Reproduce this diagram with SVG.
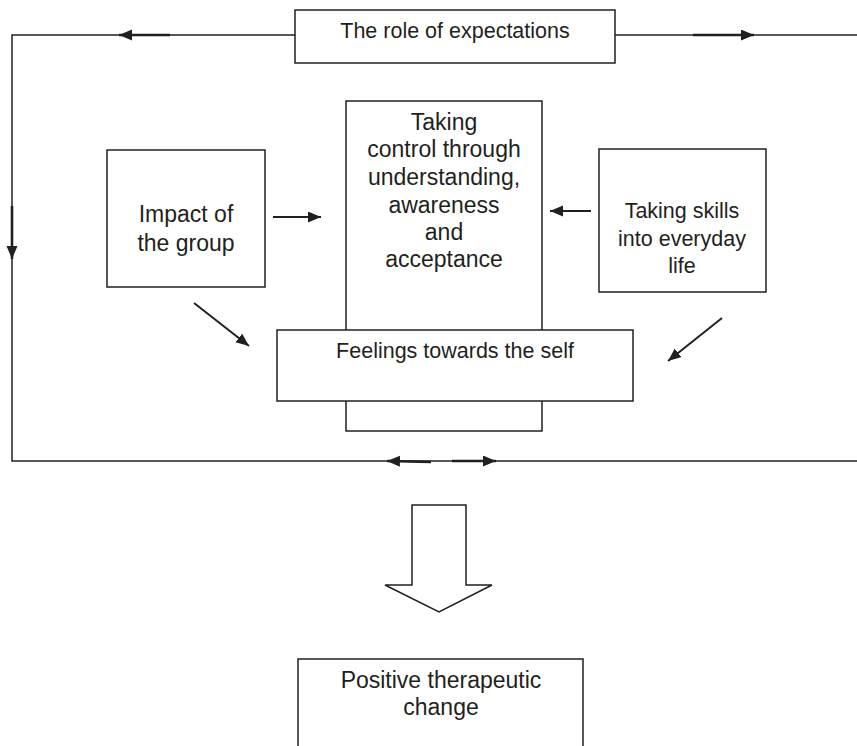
<svg xmlns="http://www.w3.org/2000/svg" width="857" height="746" viewBox="0 0 857 746">
<style>
.box{fill:#fff;stroke:#231f20;stroke-width:1.5}
.ln{fill:none;stroke:#231f20;stroke-width:1.5}
.th{fill:none;stroke:#231f20;stroke-width:2.6}
.ar{fill:none;stroke:#231f20;stroke-width:2}
text{font-family:"Liberation Sans",Arial,Helvetica,sans-serif;fill:#231f20;text-anchor:middle}
.f23{font-size:23px}
.f21{font-size:21.5px}
</style>
<defs>
<marker id="ah" markerUnits="userSpaceOnUse" markerWidth="14" markerHeight="12" refX="13" refY="5.5" orient="auto">
<path d="M0,0 L13,5.5 L0,11 z" fill="#231f20"/>
</marker>
</defs>
<rect width="857" height="746" fill="#fff"/>
<g id="connectors">
<polyline class="ln" points="295,35 12,35 12,461 857,461"/>
<line class="ln" x1="615" y1="35" x2="857" y2="35"/>
<line class="th" x1="170" y1="35" x2="119" y2="35" marker-end="url(#ah)"/>
<line class="th" x1="693" y1="35" x2="754" y2="35" marker-end="url(#ah)"/>
<line class="th" x1="12" y1="206" x2="12" y2="259" marker-end="url(#ah)"/>
<line class="th" x1="431" y1="462" x2="387" y2="461" marker-end="url(#ah)"/>
<line class="th" x1="452" y1="461" x2="496" y2="461" marker-end="url(#ah)"/>
<line class="ar" x1="273" y1="217" x2="321" y2="217" marker-end="url(#ah)"/>
<line class="ar" x1="591" y1="211" x2="550" y2="211" marker-end="url(#ah)"/>
<line class="ar" x1="194" y1="303" x2="249" y2="346" marker-end="url(#ah)"/>
<line class="ar" x1="722" y1="318" x2="668" y2="361" marker-end="url(#ah)"/>
<polygon class="box" points="412,505 466,505 466,585 492,585 439,612 385,585 412,585"/>
</g>
<g id="expectations">
<rect class="box" x="295" y="10" width="320" height="53"/>
<text class="f21" x="455" y="38">The role of expectations</text>
</g>
<g id="control">
<rect class="box" x="346" y="101" width="196" height="330"/>
<text class="f23" x="444" y="130">Taking</text>
<text class="f23" x="444" y="157">control through</text>
<text class="f23" x="444" y="185">understanding,</text>
<text class="f23" x="444" y="213">awareness</text>
<text class="f23" x="444" y="240">and</text>
<text class="f23" x="444" y="267">acceptance</text>
</g>
<g id="impact">
<rect class="box" x="107" y="150" width="158" height="137"/>
<text class="f23" x="186" y="222">Impact of</text>
<text class="f23" x="186" y="251">the group</text>
</g>
<g id="skills">
<rect class="box" x="599" y="149" width="167" height="143"/>
<text class="f21" x="682" y="218">Taking skills</text>
<text class="f21" x="682" y="246">into everyday</text>
<text class="f21" x="682" y="273">life</text>
</g>
<g id="feelings">
<rect class="box" x="277" y="330" width="356" height="71"/>
<text class="f21" x="455" y="358">Feelings towards the self</text>
</g>
<g id="change">
<rect class="box" x="298" y="659" width="285" height="100"/>
<text class="f23" x="441" y="688">Positive therapeutic</text>
<text class="f23" x="441" y="715">change</text>
</g>
</svg>
